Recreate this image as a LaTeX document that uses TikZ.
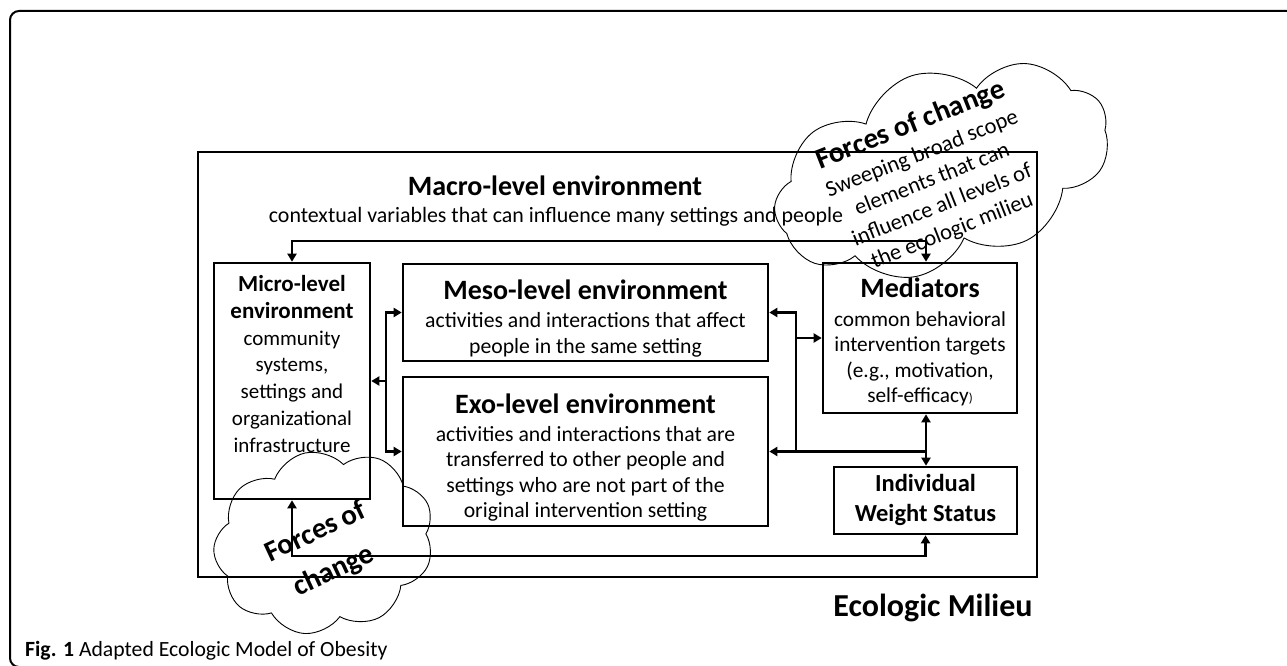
\documentclass[tikz,border=0pt]{standalone}
\usepackage{fontspec}
\setmainfont{Carlito}
\usetikzlibrary{shapes.symbols,arrows.meta}
\begin{document}
\begin{tikzpicture}[x=1pt,y=-1pt,
  box/.style={draw,line width=2.6pt,inner sep=0pt},
  conn/.style={line width=2.6pt,arrows={-},>={Triangle[length=8pt,width=9pt]}},
  ttl/.style={font=\bfseries\fontsize{28}{30}\selectfont},
  body/.style={align=center,font=\fontsize{21.7}{25.5}\selectfont},
  puff/.style={draw,cloud,cloud ignores aspect,line width=0.9pt,cloud puffs=9,cloud puff arc=115,inner sep=0pt}]
\useasboundingbox (0,0) rectangle (1287,666);

% page frame
\draw[line width=2pt,rounded corners=9pt] (10,11) rectangle (1300,667);

% ecologic milieu
\node[draw,line width=1.4pt,minimum width=839pt,minimum height=425pt] (milieu) at (617.5,364.5) {};
\node[ttl] (macroT) at (555,186) {Macro-level environment};
\node[body,font=\fontsize{21.9}{25.5}\selectfont] (macroB) at (556,217) {contextual variables that can influence many settings and people};
\node[font=\bfseries\fontsize{32}{34}\selectfont] (milieuT) at (933,608) {Ecologic Milieu};

% boxes
\node[box,minimum width=156pt,minimum height=236pt] (micro) at (292,381) {};
\node[box,minimum width=365pt,minimum height=97pt] (meso) at (585.5,312.5) {};
\node[box,minimum width=365pt,minimum height=149pt] (exo) at (585.5,451.5) {};
\node[box,minimum width=194pt,minimum height=150pt] (medi) at (920,338) {};
\node[box,minimum width=183pt,minimum height=67pt] (ind) at (925.5,500.5) {};

% box texts
\node[body,font=\fontsize{21}{26.8}\selectfont] (microT) at (292,364)
  {{\bfseries\fontsize{23}{26.8}\selectfont Micro-level}\\{\bfseries\fontsize{23}{26.8}\selectfont environment}\\community\\systems,\\settings and\\organizational\\infrastructure};
\node[ttl] (mesoT) at (585.5,290) {Meso-level environment};
\node[body] (mesoB) at (585.5,335) {activities and interactions that affect\\people in the same setting};
\node[ttl] (exoT) at (585.5,404) {Exo-level environment};
\node[body] (exoB) at (585.5,474) {activities and interactions that are\\transferred to other people and\\settings who are not part of the\\original intervention setting};
\node[ttl] (mediT) at (920,288) {Mediators};
\node[body,font=\fontsize{21.3}{25.5}\selectfont] (mediB) at (920,359) {common behavioral\\intervention targets\\(e.g., motivation,\\self-efficacy{\fontsize{13}{14}\selectfont)}};
\node[body,font=\bfseries\fontsize{24.5}{30}\selectfont] (indT) at (925.5,500) {Individual\\Weight Status};

% bus lines
\coordinate (lb) at (386,0);
\coordinate (rb) at (796,0);
\coordinate (vb) at (926,0);
\coordinate (tb) at (0,241);
\coordinate (bb) at (0,556);

\draw[conn,<->] (micro.north) -- (micro.north |- tb) -- (vb |- tb) -- (vb |- medi.north);
\draw[conn,<->] (micro.south) -- (micro.south |- bb) -- (ind.south |- bb) -- (ind.south);
\draw[conn,<->] (meso.west) -- (lb |- meso.west) -- (lb |- exo.west) -- (exo.west);
\draw[conn,->] (lb |- micro.east) -- (micro.east);
\draw[conn,<->] (meso.east) -- (rb |- meso.east) -- (rb |- exo.east) -- (exo.east);
\draw[conn,->] (rb |- medi.west) -- (medi.west);
\draw[conn] (rb |- exo.east) -- (vb |- exo.east);
\draw[conn,<->] (vb |- medi.south) -- (vb |- ind.north);

% forces of change
\node[puff,rotate=18,minimum width=346pt,minimum height=198pt] (cloudA) at (942,170) {};
\node[body,rotate=21.5,font=\fontsize{22.5}{27.5}\selectfont] (cloudAT) at (931,177)
  {{\bfseries\fontsize{29}{30}\selectfont Forces of change}\\[2pt]Sweeping broad scope\\elements that can\\influence all levels of\\the ecologic milieu};
\node[puff,rotate=12,minimum width=222pt,minimum height=182pt] (cloudB) at (324,542) {};
\node[body,rotate=25,font=\bfseries\fontsize{29}{33}\selectfont] (cloudBT) at (325,552) {Forces of\\[10pt]change};

% caption
\node[anchor=base west,inner sep=0pt,font=\fontsize{21.7}{23}\selectfont] (cap) at (25,656) {\textbf{Fig. 1} Adapted Ecologic Model of Obesity};
\end{tikzpicture}
\end{document}
